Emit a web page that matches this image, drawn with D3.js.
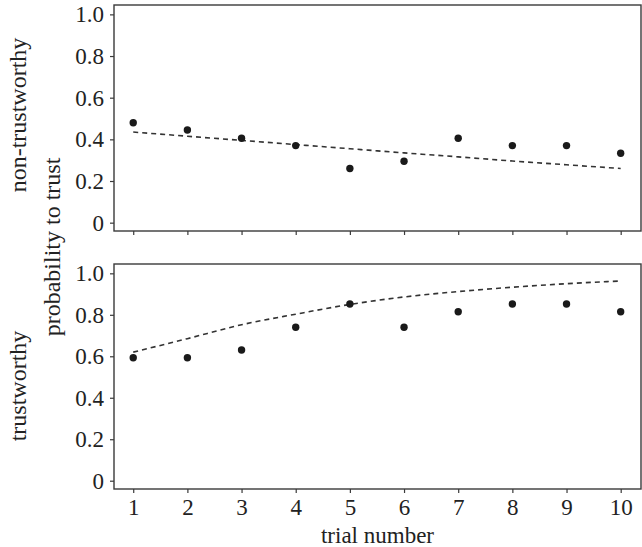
<!DOCTYPE html>
<html>
<head>
<meta charset="utf-8">
<script src="https://cdn.jsdelivr.net/npm/d3@7"></script>
<style>
  body { margin: 0; background: #fff; }
  text { font-family: "Liberation Serif", "DejaVu Serif", serif; fill: #222; }
</style>
</head>
<body>
<svg id="chart" width="642" height="547"></svg>
<script>
// DATA
var trials = [1, 2, 3, 4, 5, 6, 7, 8, 9, 10];
var yTicks = [0, 0.2, 0.4, 0.6, 0.8, 1.0];

// non-trustworthy partner
var nonTrustObserved = [0.48, 0.445, 0.405, 0.37, 0.26, 0.295, 0.405, 0.37, 0.37, 0.333];
var nonTrustFit      = [0.435, 0.415, 0.395, 0.375, 0.355, 0.335, 0.316, 0.296, 0.278, 0.26];

// trustworthy partner
var trustObserved = [0.593, 0.593, 0.63, 0.74, 0.852, 0.74, 0.815, 0.852, 0.852, 0.815];
var trustFit      = [0.62, 0.685, 0.752, 0.803, 0.85, 0.886, 0.912, 0.933, 0.95, 0.963];

var panelNames = ['non-trustworthy', 'trustworthy'];

// SETUP
var svg = d3.select('#chart');
var left = 114, right = 641;
var axisColor = '#3a3a3a';

var panels = [
  { name: panelNames[0], top: 5, bottom: 231, labelY: 115, observed: nonTrustObserved, fit: nonTrustFit },
  { name: panelNames[1], top: 264, bottom: 489, labelY: 386, observed: trustObserved, fit: trustFit }
];

var x = d3.scaleLinear()
  .domain([0.645, 10.375])
  .range([left, right]);

panels.forEach(function (p, i) {
  var y = d3.scaleLinear()
    .domain([-0.04, 1.045])
    .range([p.bottom, p.top]);

  var g = svg.append('g').attr('class', 'panel');

  // y axis ticks + labels
  var yAxis = d3.axisLeft(y)
    .tickValues(yTicks)
    .tickSize(4)
    .tickPadding(6)
    .tickFormat(function (d) { return d === 0 ? '0' : d3.format('.1f')(d); });

  var ya = g.append('g')
    .attr('transform', 'translate(' + left + ',0)')
    .call(yAxis);
  ya.select('.domain').remove();
  ya.selectAll('line').attr('stroke', axisColor).attr('stroke-width', 1.2);
  ya.selectAll('text')
    .style('font-family', '"Liberation Serif", serif')
    .style('font-size', '23px')
    .attr('fill', '#222');

  // x axis ticks (labels only on bottom panel)
  var xAxis = d3.axisBottom(x)
    .tickValues(trials)
    .tickSize(4)
    .tickPadding(6)
    .tickFormat(i === panels.length - 1 ? d3.format('d') : '');

  var xa = g.append('g')
    .attr('transform', 'translate(0,' + p.bottom + ')')
    .call(xAxis);
  xa.select('.domain').remove();
  xa.selectAll('line').attr('stroke', axisColor).attr('stroke-width', 1.2);
  xa.selectAll('text')
    .style('font-family', '"Liberation Serif", serif')
    .style('font-size', '23px')
    .attr('fill', '#222');

  // panel border
  g.append('rect')
    .attr('x', left)
    .attr('y', p.top)
    .attr('width', right - left)
    .attr('height', p.bottom - p.top)
    .attr('fill', 'none')
    .attr('stroke', axisColor)
    .attr('stroke-width', 1.4);

  // fitted curve
  var line = d3.line()
    .x(function (d, k) { return x(trials[k]); })
    .y(function (d) { return y(d); })
    .curve(d3.curveMonotoneX);

  g.append('path')
    .datum(p.fit)
    .attr('d', line)
    .attr('fill', 'none')
    .attr('stroke', '#333')
    .attr('stroke-width', 1.6)
    .attr('stroke-dasharray', '5,4');

  // observed points
  g.selectAll('circle.obs')
    .data(p.observed)
    .enter()
    .append('circle')
    .attr('class', 'obs')
    .attr('cx', function (d, k) { return x(trials[k]); })
    .attr('cy', function (d) { return y(d); })
    .attr('r', 3.7)
    .attr('fill', '#1a1a1a');

  // strip label
  svg.append('text')
    .attr('transform', 'translate(26,' + p.labelY + ') rotate(-90)')
    .attr('text-anchor', 'middle')
    .style('font-size', '24px')
    .text(p.name);
});

// axis titles
svg.append('text')
  .attr('transform', 'translate(60,' + ((panels[0].top + panels[1].bottom) / 2) + ') rotate(-90)')
  .attr('text-anchor', 'middle')
  .style('font-size', '24px')
  .text('probability to trust');

svg.append('text')
  .attr('x', (left + right) / 2)
  .attr('y', 543)
  .attr('text-anchor', 'middle')
  .style('font-size', '23px')
  .text('trial number');
</script>
</body>
</html>
